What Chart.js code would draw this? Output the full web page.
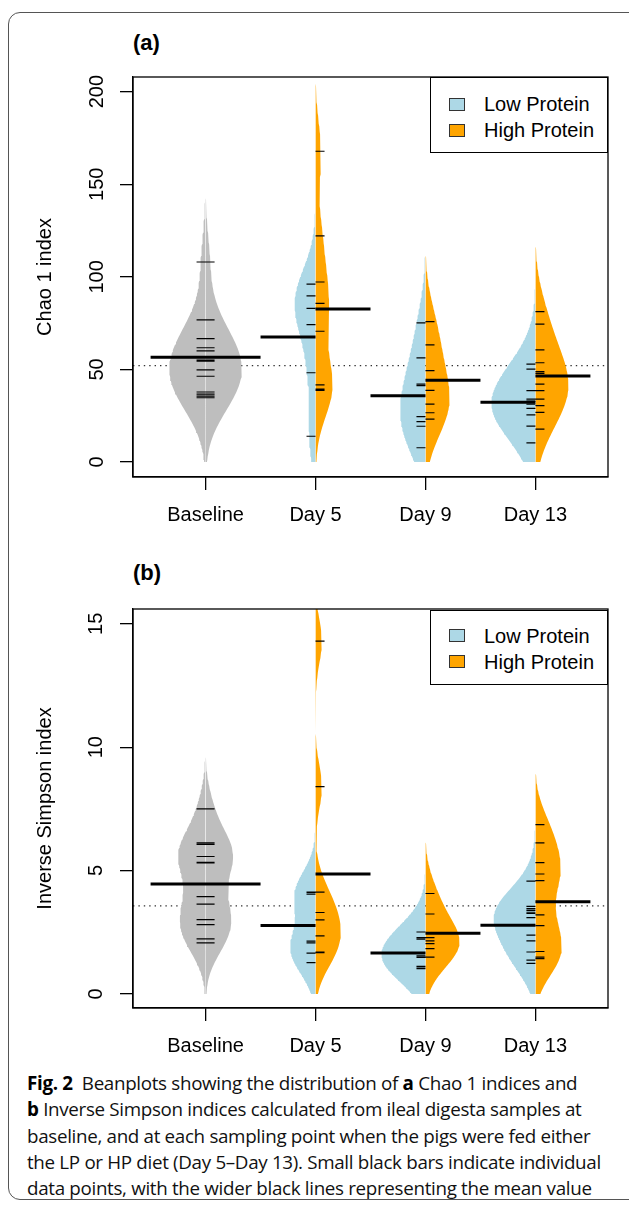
<!DOCTYPE html>
<html>
<head>
<meta charset="utf-8">
<script src="https://cdn.jsdelivr.net/npm/chart.js@4.4.1/dist/chart.umd.min.js"></script>
<style>
  body { margin: 0; width: 629px; height: 1206px; position: relative; overflow: hidden; background: #fff;
         font-family: "Liberation Sans", Arial, sans-serif; color: #000; }
  .frame { position: absolute; left: 8px; top: 12px; width: 700px; height: 1186px;
           border: 1px solid #555; border-radius: 12px; }
  .wrap { position: absolute; left: 0; width: 629px; }
  #wrapA { top: 50px; height: 477px; }
  #wrapB { top: 582px; height: 476px; }
  .tag { position: absolute; left: 133px; font-weight: bold; font-size: 22px; line-height: 26px; }
  .legend { position: absolute; left: 430px; width: 178px; box-sizing: border-box; border: 1px solid #000;
            background: #fff; font-size: 20px; }
  .legend .sw { position: absolute; left: 18px; width: 16px; height: 13px; box-sizing: border-box; border: 1px solid #333; }
  .legend .lb { position: absolute; left: 53px; line-height: 24px; white-space: nowrap; }
  .caption { position: absolute; left: 27px; top: 1070px; font-family: "Open Sans", sans-serif; font-size: 18.8px;
             line-height: 26.3px; letter-spacing: -0.32px; white-space: nowrap; color: #111; }
  .caption b { color: #000; }
</style>
</head>
<body>
<div class="frame"></div>

<div class="tag" style="top:30px">(a)</div>
<div class="wrap" id="wrapA"><canvas id="chartA" width="629" height="477"></canvas></div>
<div class="legend" style="top:77px;height:76px">
  <div class="sw" style="top:20px;background:#ADD8E6"></div><div class="lb" style="top:14px">Low Protein</div>
  <div class="sw" style="top:46px;background:#FFA500"></div><div class="lb" style="top:40px">High Protein</div>
</div>

<div class="tag" style="top:560px">(b)</div>
<div class="wrap" id="wrapB"><canvas id="chartB" width="629" height="476"></canvas></div>
<div class="legend" style="top:610px;height:75px">
  <div class="sw" style="top:18px;background:#ADD8E6"></div><div class="lb" style="top:13px">Low Protein</div>
  <div class="sw" style="top:44px;background:#FFA500"></div><div class="lb" style="top:39px">High Protein</div>
</div>

<div class="caption">
  <b>Fig. 2</b>&nbsp; Beanplots showing the distribution of <b>a</b> Chao 1 indices and<br>
  <b>b</b> Inverse Simpson indices calculated from ileal digesta samples at<br>
  baseline, and at each sampling point when the pigs were fed either<br>
  the LP or HP diet (Day 5–Day 13). Small black bars indicate individual<br>
  data points, with the wider black lines representing the mean value
</div>

<script>
// --- dados ---
const categories = ["Baseline", "Day 5", "Day 9", "Day 13"];

// (a) Chao 1
const chaoTicks = [0, 50, 100, 150, 200];
const chaoBaseline = [108, 76.7, 66.6, 61.7, 60.0, 55.0, 54.5, 49.7, 46.3, 37.8, 36.7, 35.6, 34.7];
const chaoLow = [
    [96.1, 89.7, 83.0, 74.2, 48.2, 13.9],
    [75.1, 56.2, 42.0, 41.2, 24.5, 21.8, 19.3, 7.7],
    [52.9, 50.2, 38.5, 34.0, 32.9, 31.2, 29.0, 25.4, 19.4, 10.3]
];
const chaoHigh = [
    [167.8, 122.1, 97.2, 85.7, 70.6, 41.6, 39.4, 38.7],
    [75.8, 63.2, 49.3, 38.7, 31.3, 26.6, 23.2],
    [81.2, 74.5, 60.5, 53.6, 48.8, 47.9, 42.1, 38.5, 34.0, 30.4, 26.8, 17.8]
];
const chaoMeanBaseline = 56.5;
const chaoMeanLow = [67.5, 35.8, 32.2];
const chaoMeanHigh = [82.6, 44.1, 46.4];
const chaoOverall = 52.0;
const chaoBandwidth = 16;
// largest half-width of each bean (x units)
const chaoWidthBaseline = 0.33;
const chaoWidthLow = [0.19, 0.23, 0.40];
const chaoWidthHigh = [0.155, 0.22, 0.30];

// (b) Inverse Simpson
const simpsonTicks = [0, 5, 10, 15];
const simpsonBaseline = [7.50, 6.12, 6.06, 5.57, 5.33, 5.31, 3.94, 3.64, 3.01, 2.81, 2.23, 2.07];
const simpsonLow = [
    [4.13, 4.10, 4.04, 2.14, 2.07, 1.65, 1.27],
    [2.51, 2.28, 2.22, 1.54, 1.48, 1.12, 1.05, 1.02],
    [4.57, 3.55, 3.46, 3.39, 3.31, 3.26, 3.09, 2.38, 2.15, 1.70, 1.37, 1.24]
];
const simpsonHigh = [
    [14.30, 8.40, 4.13, 3.30, 3.00, 2.35, 1.70, 1.67],
    [4.07, 3.24, 2.28, 2.15, 2.04, 1.84, 1.49],
    [6.86, 6.12, 5.32, 4.86, 4.59, 3.20, 2.77, 1.72, 1.49, 1.43]
];
const simpsonMeanBaseline = 4.46;
const simpsonMeanLow = [2.77, 1.66, 2.78];
const simpsonMeanHigh = [4.86, 2.46, 3.74];
const simpsonOverall = 3.57;
const simpsonBandwidth = 0.9;
const simpsonWidthBaseline = 0.25;
const simpsonWidthLow = [0.23, 0.40, 0.38];
const simpsonWidthHigh = [0.23, 0.31, 0.24];

const GREY = "#BEBEBE", LOW = "#ADD8E6", HIGH = "#FFA500";
const FONT = '"Liberation Sans", Arial, sans-serif';
Chart.defaults.font.family = FONT;
Chart.defaults.color = "#000";

// --- densidade (kernel gaussiano, cortado em 0) ---
function kde(vals, bw, y) {
    let s = 0;
    vals.forEach(v => { const z = (y - v) / bw; s += Math.exp(-0.5 * z * z); });
    return s / (vals.length * bw * Math.sqrt(2 * Math.PI));
}

function beanShape(vals, bw, center, halfWidth, side) {
    const lo = Math.max(0, Math.min(...vals) - 3 * bw);
    const hi = Math.max(...vals) + 3 * bw;
    const n = 150, ys = [], ds = [];
    for (let i = 0; i <= n; i++) {
        const y = lo + (hi - lo) * i / n;
        ys.push(y);
        ds.push(kde(vals, bw, y));
    }
    const peak = Math.max(...ds);
    const pts = [];
    if (side === "left") {
        ys.forEach((y, i) => pts.push({ x: center - halfWidth * ds[i] / peak, y }));
        pts.push({ x: center, y: hi }, { x: center, y: lo });
    } else {
        pts.push({ x: center, y: lo }, { x: center, y: hi });
        for (let i = n; i >= 0; i--) pts.push({ x: center + halfWidth * ds[i] / peak, y: ys[i] });
    }
    return pts;
}

function beanDataset(pts, color) {
    return {
        data: pts, showLine: true, fill: "shape", backgroundColor: color,
        borderColor: "rgba(0,0,0,0)", borderWidth: 0, pointRadius: 0, order: 2
    };
}

function segment(x0, x1, y) {
    return [{ x: x0, y }, { x: x1, y }, { x: x1, y: null }];
}

function buildDatasets(p) {
    const sets = [];
    const T = 0.082;   // comprimento dos tracinhos
    const M = 0.5;     // comprimento da linha da média
    const ticks = [], means = [];

    // linha pontilhada geral
    sets.push({
        data: [{ x: 0.34, y: p.overall }, { x: 4.66, y: p.overall }], showLine: true,
        borderColor: "#333", borderWidth: 1.3, borderDash: [1.4, 4], pointRadius: 0, fill: false, order: 3
    });

    // baseline (bean inteiro, cinza)
    sets.push(beanDataset(beanShape(p.baseline, p.bw, 1, p.wBase, "left"), GREY));
    sets.push(beanDataset(beanShape(p.baseline, p.bw, 1, p.wBase, "right"), GREY));
    p.baseline.forEach(v => ticks.push(...segment(1 - T, 1 + T, v)));
    means.push(...segment(1 - M, 1 + M, p.meanBase));

    // dias: metade esquerda = LP, direita = HP
    for (let i = 0; i < 3; i++) {
        const c = i + 2;
        sets.push(beanDataset(beanShape(p.low[i], p.bw, c, p.wLow[i], "left"), LOW));
        sets.push(beanDataset(beanShape(p.high[i], p.bw, c, p.wHigh[i], "right"), HIGH));
        p.low[i].forEach(v => ticks.push(...segment(c - T, c, v)));
        p.high[i].forEach(v => ticks.push(...segment(c, c + T, v)));
        means.push(...segment(c - M, c, p.meanLow[i]));
        means.push(...segment(c, c + M, p.meanHigh[i]));
    }

    sets.push({ data: ticks, showLine: true, spanGaps: false, borderColor: "#000", borderWidth: 1.2,
                pointRadius: 0, fill: false, order: 1 });
    sets.push({ data: means, showLine: true, spanGaps: false, borderColor: "#000", borderWidth: 3,
                pointRadius: 0, fill: false, order: 0 });
    return sets;
}

const boxPlugin = {
    id: "box",
    afterDraw(chart) {
        const { ctx, chartArea: a } = chart;
        ctx.save();
        ctx.strokeStyle = "#000";
        ctx.lineWidth = 1.3;
        ctx.strokeRect(a.left, a.top, a.right - a.left, a.bottom - a.top);
        ctx.restore();
    }
};

function makeChart(id, p) {
    return new Chart(document.getElementById(id).getContext("2d"), {
        type: "scatter",
        data: { datasets: buildDatasets(p) },
        options: {
            responsive: false,
            animation: false,
            devicePixelRatio: 1,
            layout: { padding: { top: 27, right: 21, left: 0, bottom: 0 } },
            plugins: { legend: { display: false }, tooltip: { enabled: false } },
            scales: {
                x: {
                    type: "linear", min: 0.34, max: 4.66,
                    afterBuildTicks: s => { s.ticks = categories.map((c, i) => ({ value: i + 1 })); },
                    afterFit: s => { s.height = 50; },
                    ticks: { callback: v => categories[v - 1], font: { size: 20 }, padding: 13,
                             autoSkip: false, maxRotation: 0, color: "#000" },
                    grid: { drawOnChartArea: false, tickLength: 13, color: "#000", lineWidth: 1.3 },
                    border: { display: true, color: "#000", width: 1.3 }
                },
                y: {
                    type: "linear", min: p.ymin, max: p.ymax,
                    afterBuildTicks: s => { s.ticks = p.ticks.map(v => ({ value: v })); },
                    afterFit: s => { s.width = 133; },
                    ticks: { minRotation: 90, maxRotation: 90, crossAlign: "center", font: { size: 20 },
                             padding: p.tickPad, color: "#000" },
                    grid: { drawOnChartArea: false, tickLength: 13, color: "#000", lineWidth: 1.3 },
                    border: { display: true, color: "#000", width: 1.3 },
                    title: { display: true, text: p.title, font: { size: 20 }, color: "#000",
                             padding: { top: 33, bottom: 0 } }
                }
            }
        },
        plugins: [boxPlugin]
    });
}

makeChart("chartA", {
    baseline: chaoBaseline, low: chaoLow, high: chaoHigh,
    meanBase: chaoMeanBaseline, meanLow: chaoMeanLow, meanHigh: chaoMeanHigh, overall: chaoOverall,
    bw: chaoBandwidth, wBase: chaoWidthBaseline, wLow: chaoWidthLow, wHigh: chaoWidthHigh,
    ticks: chaoTicks, ymin: -8.1, ymax: 207.9, tickPad: 6, title: "Chao 1 index"
});

makeChart("chartB", {
    baseline: simpsonBaseline, low: simpsonLow, high: simpsonHigh,
    meanBase: simpsonMeanBaseline, meanLow: simpsonMeanLow, meanHigh: simpsonMeanHigh, overall: simpsonOverall,
    bw: simpsonBandwidth, wBase: simpsonWidthBaseline, wLow: simpsonWidthLow, wHigh: simpsonWidthHigh,
    ticks: simpsonTicks, ymin: -0.57, ymax: 15.6, tickPad: 12, title: "Inverse Simpson index"
});
</script>
</body>
</html>
